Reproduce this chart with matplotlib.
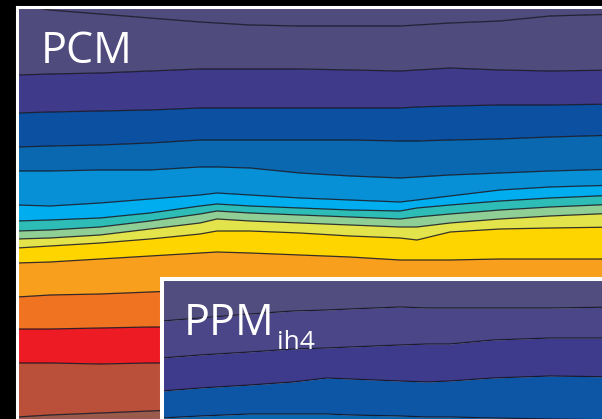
import numpy as np
import matplotlib
matplotlib.use("Agg")
from matplotlib import pyplot as plt

W, H = 602, 419

# Horizontal sample positions (px from the left) for the main PCM section
x_main = [17, 50, 100, 150, 200, 217, 250, 300, 350, 400, 417, 450, 500, 550, 620]

# Interface depths (px from the top) along x_main, top to bottom
pcm_lines = [
    [5, 10, 14, 18, 22, 23, 25, 26, 26, 26, 25, 23, 21, 16, 14],
    [75, 74, 73, 71, 69, 69, 69, 69, 70, 71, 70, 68, 70, 71, 70],
    [113, 112, 111, 110, 108, 108, 108, 108, 108, 108, 107, 106, 105, 105, 104],
    [147, 146, 145, 143, 140, 140, 140, 140, 140, 141, 141, 140, 139, 137, 135],
    [171, 171, 170, 170, 167, 167, 168, 173, 176, 178, 177, 175, 173, 171, 169],
    [205, 206, 203, 199, 195, 193, 195, 198, 200, 202, 200, 196, 190, 187, 185],
    [221, 220, 218, 213, 206, 204, 206, 208, 210, 211, 208, 205, 201, 198, 195],
    [231, 230, 227, 221, 214, 211, 213, 215, 217, 219, 217, 214, 210, 207, 204],
    [239, 238, 235, 229, 223, 219, 221, 223, 225, 227, 227, 223, 219, 216, 213],
    [248, 246, 243, 239, 234, 231, 231, 233, 236, 238, 240, 232, 229, 228, 227],
    [263, 262, 259, 256, 253, 252, 253, 255, 257, 260, 260, 260, 259, 259, 259],
    [297, 295, 294, 292, 290, 290, 290, 290, 291, 292, 292, 292, 291, 290, 290],
    [329, 329, 328, 327, 327, 327, 327, 327, 328, 328, 328, 328, 327, 327, 327],
    [363, 363, 364, 363, 363, 363, 363, 363, 363, 363, 363, 363, 363, 363, 363],
    [417, 415, 413, 411, 409, 409, 409, 410, 410, 410, 410, 410, 410, 410, 410],
]

# Fill colours: one per layer, from the surface down
pcm_colors = ["#504b7d", "#504b7d", "#3f3a8a", "#0c50a2", "#0a68b0", "#0890d6",
              "#00aeef", "#2dbdb6", "#8fce94", "#e3e44b", "#ffd500", "#f8a01e",
              "#f07322", "#ed1c24", "#ba503a", "#9b5b4c"]

# Inset (PPM_ih4) section
x_inset = [162, 200, 250, 293, 327, 350, 400, 427, 450, 493, 550, 620]
ppm_lines = [
    [321, 318, 314, 311, 310, 309, 307, 308, 308, 308, 308, 307],
    [358, 355, 352, 349, 348, 347, 345, 344, 344, 340, 338, 338],
    [391, 388, 385, 382, 378, 379, 381, 382, 381, 378, 376, 377],
    [418, 416, 414, 414, 414, 415, 416, 417, 417, 418, 419, 420],
]
ppm_colors = ["#524d7f", "#4a4687", "#3e3a8c", "#0d55a5", "#0a66ae"]


def draw_section(ax, xs, lines, colors, top, bottom):
    bounds = [np.full(len(xs), top)] + [np.array(l) for l in lines] + [np.full(len(xs), bottom)]
    for i, c in enumerate(colors):
        ax.fill_between(xs, bounds[i], bounds[i + 1], color=c, lw=0)
    for l in lines:
        ax.plot(xs, l, color="#141420", lw=0.9, alpha=0.85)


fig = plt.figure(figsize=(W / 100, H / 100), dpi=100, facecolor="black")


def add_panel(left, top, right=620, bottom=430):
    ax = fig.add_axes([left / W, 1 - bottom / H, (right - left) / W, (bottom - top) / H])
    ax.set_xlim(left, right)
    ax.set_ylim(bottom, top)
    ax.set_xticks([])
    ax.set_yticks([])
    for s in ax.spines.values():
        s.set_color("white")
    return ax


ax = add_panel(17, 7)
for s in ax.spines.values():
    s.set_linewidth(2.2)
draw_section(ax, x_main, pcm_lines, pcm_colors, 0, 440)
ax.text(41, 63, "PCM", color="white", fontsize=31, family="Open Sans")

ax2 = add_panel(162, 279)
for s in ax2.spines.values():
    s.set_linewidth(2.9)
draw_section(ax2, x_inset, ppm_lines, ppm_colors, 270, 440)
ax2.text(184, 335, "PPM", color="white", fontsize=31, family="Open Sans")
ax2.text(277, 349, "ih4", color="white", fontsize=19, family="Open Sans")

fig.savefig("out.png", dpi=100, facecolor="black")
